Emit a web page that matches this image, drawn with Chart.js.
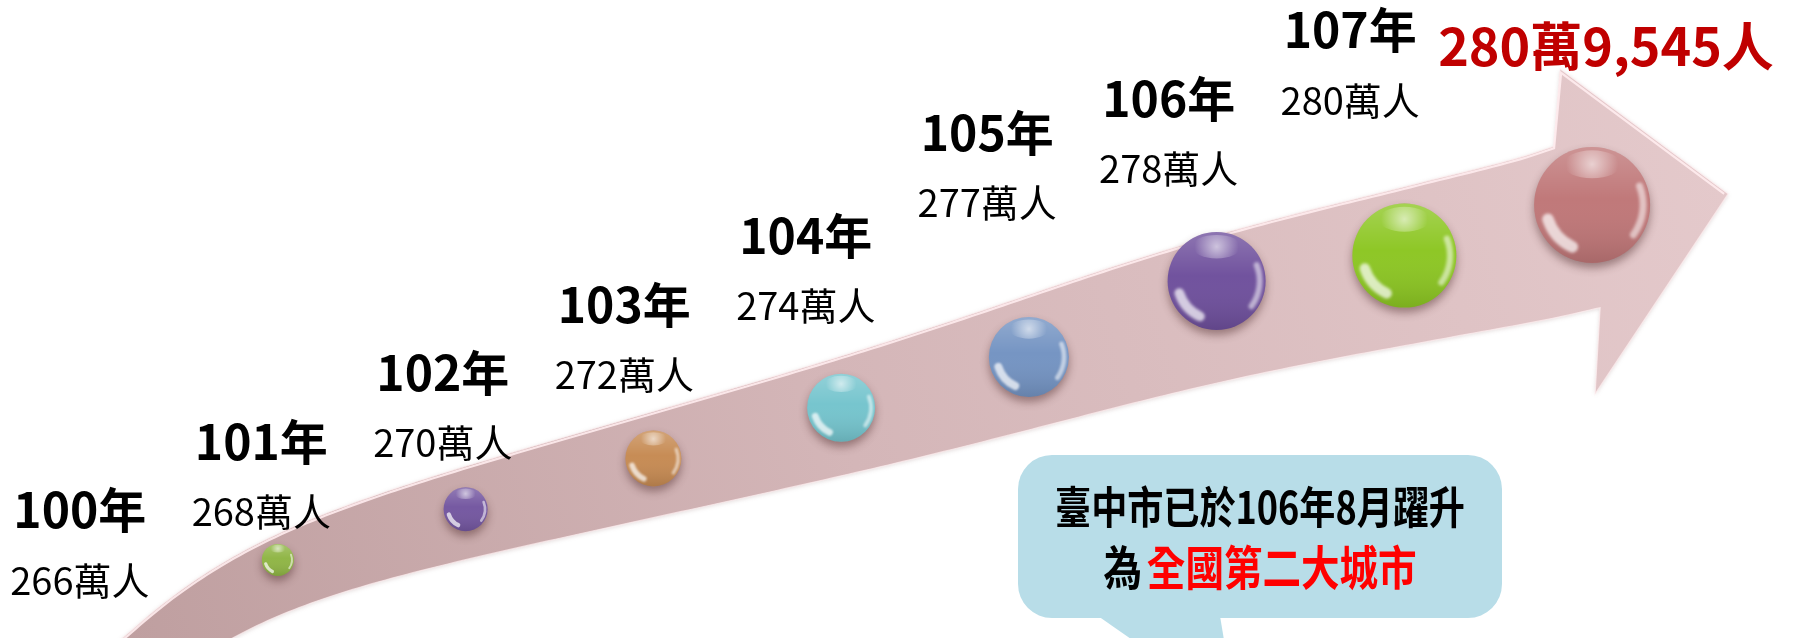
<!DOCTYPE html>
<html>
<head>
<meta charset="utf-8">
<script src="https://cdn.jsdelivr.net/npm/chart.js@4.4.1/dist/chart.umd.min.js"></script>
<style>
  html, body { margin: 0; padding: 0; background: #ffffff; }
  #wrap { width: 1793px; height: 638px; position: relative; }
</style>
</head>
<body>
<div id="wrap"><canvas id="c"></canvas></div>
<script>
// ---------- data ----------
const years = [100, 101, 102, 103, 104, 105, 106, 107];
const population = [266, 268, 270, 272, 274, 277, 278, 280]; // 萬人
const latestPopulation = 2809545;
const calloutLine1 = '臺中市已於106年8月躍升';
const calloutLead = '為';
const calloutHighlight = '全國第二大城市';

const yearLabels = years.map(y => y + '年');
const popLabels = population.map(p => p + '萬人');
function formatLatest(n) {
  const wan = Math.floor(n / 10000);
  const rest = n % 10000;
  return wan + '萬' + rest.toLocaleString('en-US') + '人';
}

// ---------- styles ----------
const ballColors = ['#8fb544', '#7356a0', '#c68a52', '#74c4cd', '#7393c2', '#6e4f9c', '#8cc622', '#bf7677'];
const FONT = '"Noto Sans CJK TC", "Noto Sans CJK SC", sans-serif';
const CALLOUT = { left: 1018, top: 455, right: 1502, bottom: 618, radius: 34, fill: '#b8dde8' };

// ---------- helpers ----------
function catmull(pts, samples) {
  const out = [];
  for (let i = 0; i < pts.length - 1; i++) {
    const p0 = pts[Math.max(0, i - 1)], p1 = pts[i], p2 = pts[i + 1], p3 = pts[Math.min(pts.length - 1, i + 2)];
    for (let s = 0; s < samples; s++) {
      const t = s / samples, t2 = t * t, t3 = t2 * t;
      const f = (a, b, c, d) => 0.5 * ((2 * b) + (-a + c) * t + (2 * a - 5 * b + 4 * c - d) * t2 + (-a + 3 * b - 3 * c + d) * t3);
      out.push({ x: f(p0.x, p1.x, p2.x, p3.x), y: f(p0.y, p1.y, p2.y, p3.y), w: p1.w + (p2.w - p1.w) * t });
    }
  }
  out.push(pts[pts.length - 1]);
  return out;
}
function smooth(line, k, passes) {
  let cur = line;
  for (let p = 0; p < passes; p++) {
    const next = cur.map((pt, i) => {
      if (i === 0 || i === cur.length - 1) return pt;
      const kk = Math.min(k, i, cur.length - 1 - i);
      let sx = 0, sy = 0, sw = 0, c = 0;
      for (let j = i - kk; j <= i + kk; j++) { sx += cur[j].x; sy += cur[j].y; sw += cur[j].w; c++; }
      return { x: sx / c, y: sy / c, w: sw / c };
    });
    cur = next;
  }
  return cur;
}

// ---------- arrow band (follows the plotted balls) ----------
const arrowPlugin = {
  id: 'arrowBand',
  beforeDatasetsDraw(chart) {
    const ctx = chart.ctx;
    const meta = chart.getDatasetMeta(0);
    const pts = meta.data.map(el => ({ x: el.x, y: el.y, r: el.options.radius }));
    const n = pts.length;
    const first = pts[0], last = pts[n - 1];
    const nodes = [];
    nodes.push({ x: first.x - 200, y: first.y + 160, w: 26 });
    nodes.push({ x: first.x - 100, y: first.y + 62, w: 32 });
    for (let i = 0; i < n - 1; i++) {
      const p = pts[i];
      nodes.push({ x: p.x, y: p.y + 0.45 * p.r - 6, w: 22 + 1.05 * p.r });
    }
    nodes.push({ x: last.x - 15, y: last.y + 22, w: 84 });
    const line = smooth(catmull(nodes, 24), 18, 3);
    const top = [], bot = [];
    for (let i = 0; i < line.length; i++) {
      const a = line[Math.max(0, i - 2)], b = line[Math.min(line.length - 1, i + 2)];
      let tx = b.x - a.x, ty = b.y - a.y;
      const L = Math.hypot(tx, ty) || 1; tx /= L; ty /= L;
      const nx = -ty, ny = tx;
      const c = line[i];
      top.push({ x: c.x - nx * c.w, y: c.y - ny * c.w });
      bot.push({ x: c.x + nx * c.w, y: c.y + ny * c.w });
    }
    const headTop = { x: last.x - 32, y: last.y - 136 };
    const tip = { x: last.x + 136, y: last.y - 11 };
    const headBot = { x: last.x + 3, y: last.y + 189 };

    ctx.save();
    ctx.beginPath();
    ctx.moveTo(top[0].x, top[0].y);
    for (const p of top) ctx.lineTo(p.x, p.y);
    ctx.lineTo(headTop.x, headTop.y);
    ctx.lineTo(tip.x, tip.y);
    ctx.lineTo(headBot.x, headBot.y);
    for (let i = bot.length - 1; i >= 0; i--) ctx.lineTo(bot[i].x, bot[i].y);
    ctx.closePath();
    const g = ctx.createLinearGradient(first.x - 150, chart.chartArea.bottom, tip.x, tip.y);
    g.addColorStop(0, '#bf9fa0');
    g.addColorStop(0.45, '#d4b6b8');
    g.addColorStop(1, '#e4c9cb');
    ctx.shadowColor = 'rgba(120,80,80,0.22)';
    ctx.shadowBlur = 4;
    ctx.shadowOffsetY = 1;
    ctx.fillStyle = g;
    ctx.fill();
    ctx.shadowColor = 'transparent';
    ctx.lineWidth = 1.2;
    ctx.strokeStyle = 'rgba(255,240,241,0.7)';
    ctx.stroke();
    ctx.beginPath();
    for (let i = 0; i < top.length; i++) {
      const p = top[i];
      if (i === 0) ctx.moveTo(p.x, p.y + 2); else ctx.lineTo(p.x, p.y + 2);
    }
    ctx.lineTo(headTop.x + 1, headTop.y + 4);
    ctx.lineTo(tip.x - 4, tip.y);
    ctx.lineWidth = 2.2;
    ctx.strokeStyle = 'rgba(255,236,238,0.9)';
    ctx.stroke();
    ctx.restore();
  }
};

// ---------- glossy balls ----------
const glossPlugin = {
  id: 'gloss',
  beforeDatasetDraw(chart, args) {
    if (args.index !== 0) return;
    const ctx = chart.ctx;
    ctx.save();
    ctx.shadowColor = 'rgba(70,35,35,0.45)';
    ctx.shadowBlur = 8;
    ctx.shadowOffsetY = 5;
  },
  afterDatasetDraw(chart, args) {
    if (args.index !== 0) return;
    const ctx = chart.ctx;
    ctx.restore();
    const meta = chart.getDatasetMeta(0);
    meta.data.forEach(el => {
      const x = el.x, y = el.y, r = el.options.radius;
      ctx.save();
      ctx.beginPath();
      ctx.arc(x, y, r, 0, Math.PI * 2);
      ctx.clip();
      const lg = ctx.createLinearGradient(x, y - r, x, y + r);
      lg.addColorStop(0, 'rgba(255,255,255,0.22)');
      lg.addColorStop(0.45, 'rgba(255,255,255,0.02)');
      lg.addColorStop(1, 'rgba(0,0,0,0.12)');
      ctx.fillStyle = lg;
      ctx.fillRect(x - r, y - r, 2 * r, 2 * r);
      const rg = ctx.createRadialGradient(x, y - r * 0.7, 0, x, y - r * 0.7, r * 0.45);
      rg.addColorStop(0, 'rgba(255,255,255,0.6)');
      rg.addColorStop(1, 'rgba(255,255,255,0)');
      ctx.fillStyle = rg;
      ctx.beginPath();
      ctx.ellipse(x, y - r * 0.7, r * 0.5, r * 0.24, 0, 0, Math.PI * 2);
      ctx.fill();
      ctx.filter = 'blur(' + Math.max(0.5, r * 0.03) + 'px)';
      ctx.lineCap = 'round';
      ctx.strokeStyle = 'rgba(255,255,255,0.7)';
      ctx.lineWidth = Math.max(2, r * 0.2);
      ctx.beginPath();
      ctx.arc(x, y, r * 0.8, Math.PI * 0.64, Math.PI * 0.9);
      ctx.stroke();
      ctx.strokeStyle = 'rgba(255,255,255,0.55)';
      ctx.lineWidth = Math.max(1.5, r * 0.12);
      ctx.beginPath();
      ctx.arc(x, y, r * 0.88, -Math.PI * 0.12, Math.PI * 0.2);
      ctx.stroke();
      ctx.restore();
    });
  }
};

// ---------- labels and callout ----------
const labelPlugin = {
  id: 'labels',
  afterDatasetsDraw(chart) {
    const ctx = chart.ctx;
    const meta = chart.getDatasetMeta(1);
    ctx.save();
    ctx.textAlign = 'center';
    ctx.textBaseline = 'middle';
    ctx.fillStyle = '#000000';
    meta.data.forEach((el, i) => {
      ctx.font = 'bold 48px ' + FONT;
      ctx.fillText(yearLabels[i], el.x, el.y);
      ctx.font = '38px ' + FONT;
      ctx.fillText(popLabels[i], el.x, el.y + 70);
    });
    const lastEl = meta.data[meta.data.length - 1];
    ctx.textAlign = 'left';
    ctx.font = 'bold 52px ' + FONT;
    ctx.fillStyle = '#c00000';
    ctx.fillText(formatLatest(latestPopulation), lastEl.x + 88, lastEl.y + 16);
    ctx.restore();

    const c = CALLOUT;
    ctx.save();
    ctx.fillStyle = c.fill;
    ctx.beginPath();
    ctx.roundRect(c.left, c.top, c.right - c.left, c.bottom - c.top, c.radius);
    ctx.fill();
    ctx.beginPath();
    ctx.moveTo(1098, c.bottom - 2);
    ctx.lineTo(1141, chart.chartArea.bottom + 8);
    ctx.lineTo(1225, chart.chartArea.bottom + 8);
    ctx.lineTo(1220, c.bottom - 2);
    ctx.closePath();
    ctx.fill();
    const cx = (c.left + c.right) / 2;
    ctx.textBaseline = 'middle';
    ctx.save();
    ctx.translate(cx, 507);
    ctx.scale(0.82, 1);
    ctx.font = 'bold 44px ' + FONT;
    ctx.textAlign = 'center';
    ctx.fillStyle = '#000000';
    ctx.fillText(calloutLine1, 0, 0);
    ctx.restore();
    ctx.save();
    ctx.translate(cx, 567);
    ctx.scale(0.82, 1);
    ctx.font = 'bold 47px ' + FONT;
    ctx.textAlign = 'left';
    const wLead = ctx.measureText(calloutLead).width;
    const wHi = ctx.measureText(calloutHighlight).width;
    const start = -(wLead + wHi + 6) / 2;
    ctx.fillStyle = '#000000';
    ctx.fillText(calloutLead, start, 0);
    ctx.fillStyle = '#ff0000';
    ctx.fillText(calloutHighlight, start + wLead + 6, 0);
    ctx.restore();
    ctx.restore();
  }
};

// ---------- chart ----------
new Chart(document.getElementById('c'), {
  type: 'bubble',
  data: {
    datasets: [
      {
        label: 'balls',
        data: years.map((y, i) => ({ x: y, y: population[i] })),
        xAxisID: 'x',
        yAxisID: 'y',
        backgroundColor: ballColors,
        borderWidth: 0,
        clip: false,
        radius: ctx => (ctx.raw ? 16 + 3 * (ctx.raw.y - population[0]) : 0)
      },
      {
        label: 'labels',
        data: years.map((y, i) => ({ x: y, y: population[i] })),
        xAxisID: 'xl',
        yAxisID: 'yl',
        radius: 0,
        clip: false,
        backgroundColor: 'rgba(0,0,0,0)',
        borderWidth: 0
      }
    ]
  },
  options: {
    responsive: true,
    maintainAspectRatio: false,
    animation: false,
    events: [],
    layout: { padding: 0, autoPadding: false },
    plugins: { legend: { display: false }, tooltip: { enabled: false } },
    scales: {
      x: { type: 'linear', display: false, min: 98.52, max: 108.07 },
      y: { type: 'linear', display: false, min: 262.92, max: 288.08 },
      xl: { type: 'linear', axis: 'x', display: false, min: 99.56, max: 109.44 },
      yl: { type: 'linear', axis: 'y', display: false, min: 262.27, max: 280.88 }
    }
  },
  plugins: [arrowPlugin, glossPlugin, labelPlugin]
});
</script>
</body>
</html>
